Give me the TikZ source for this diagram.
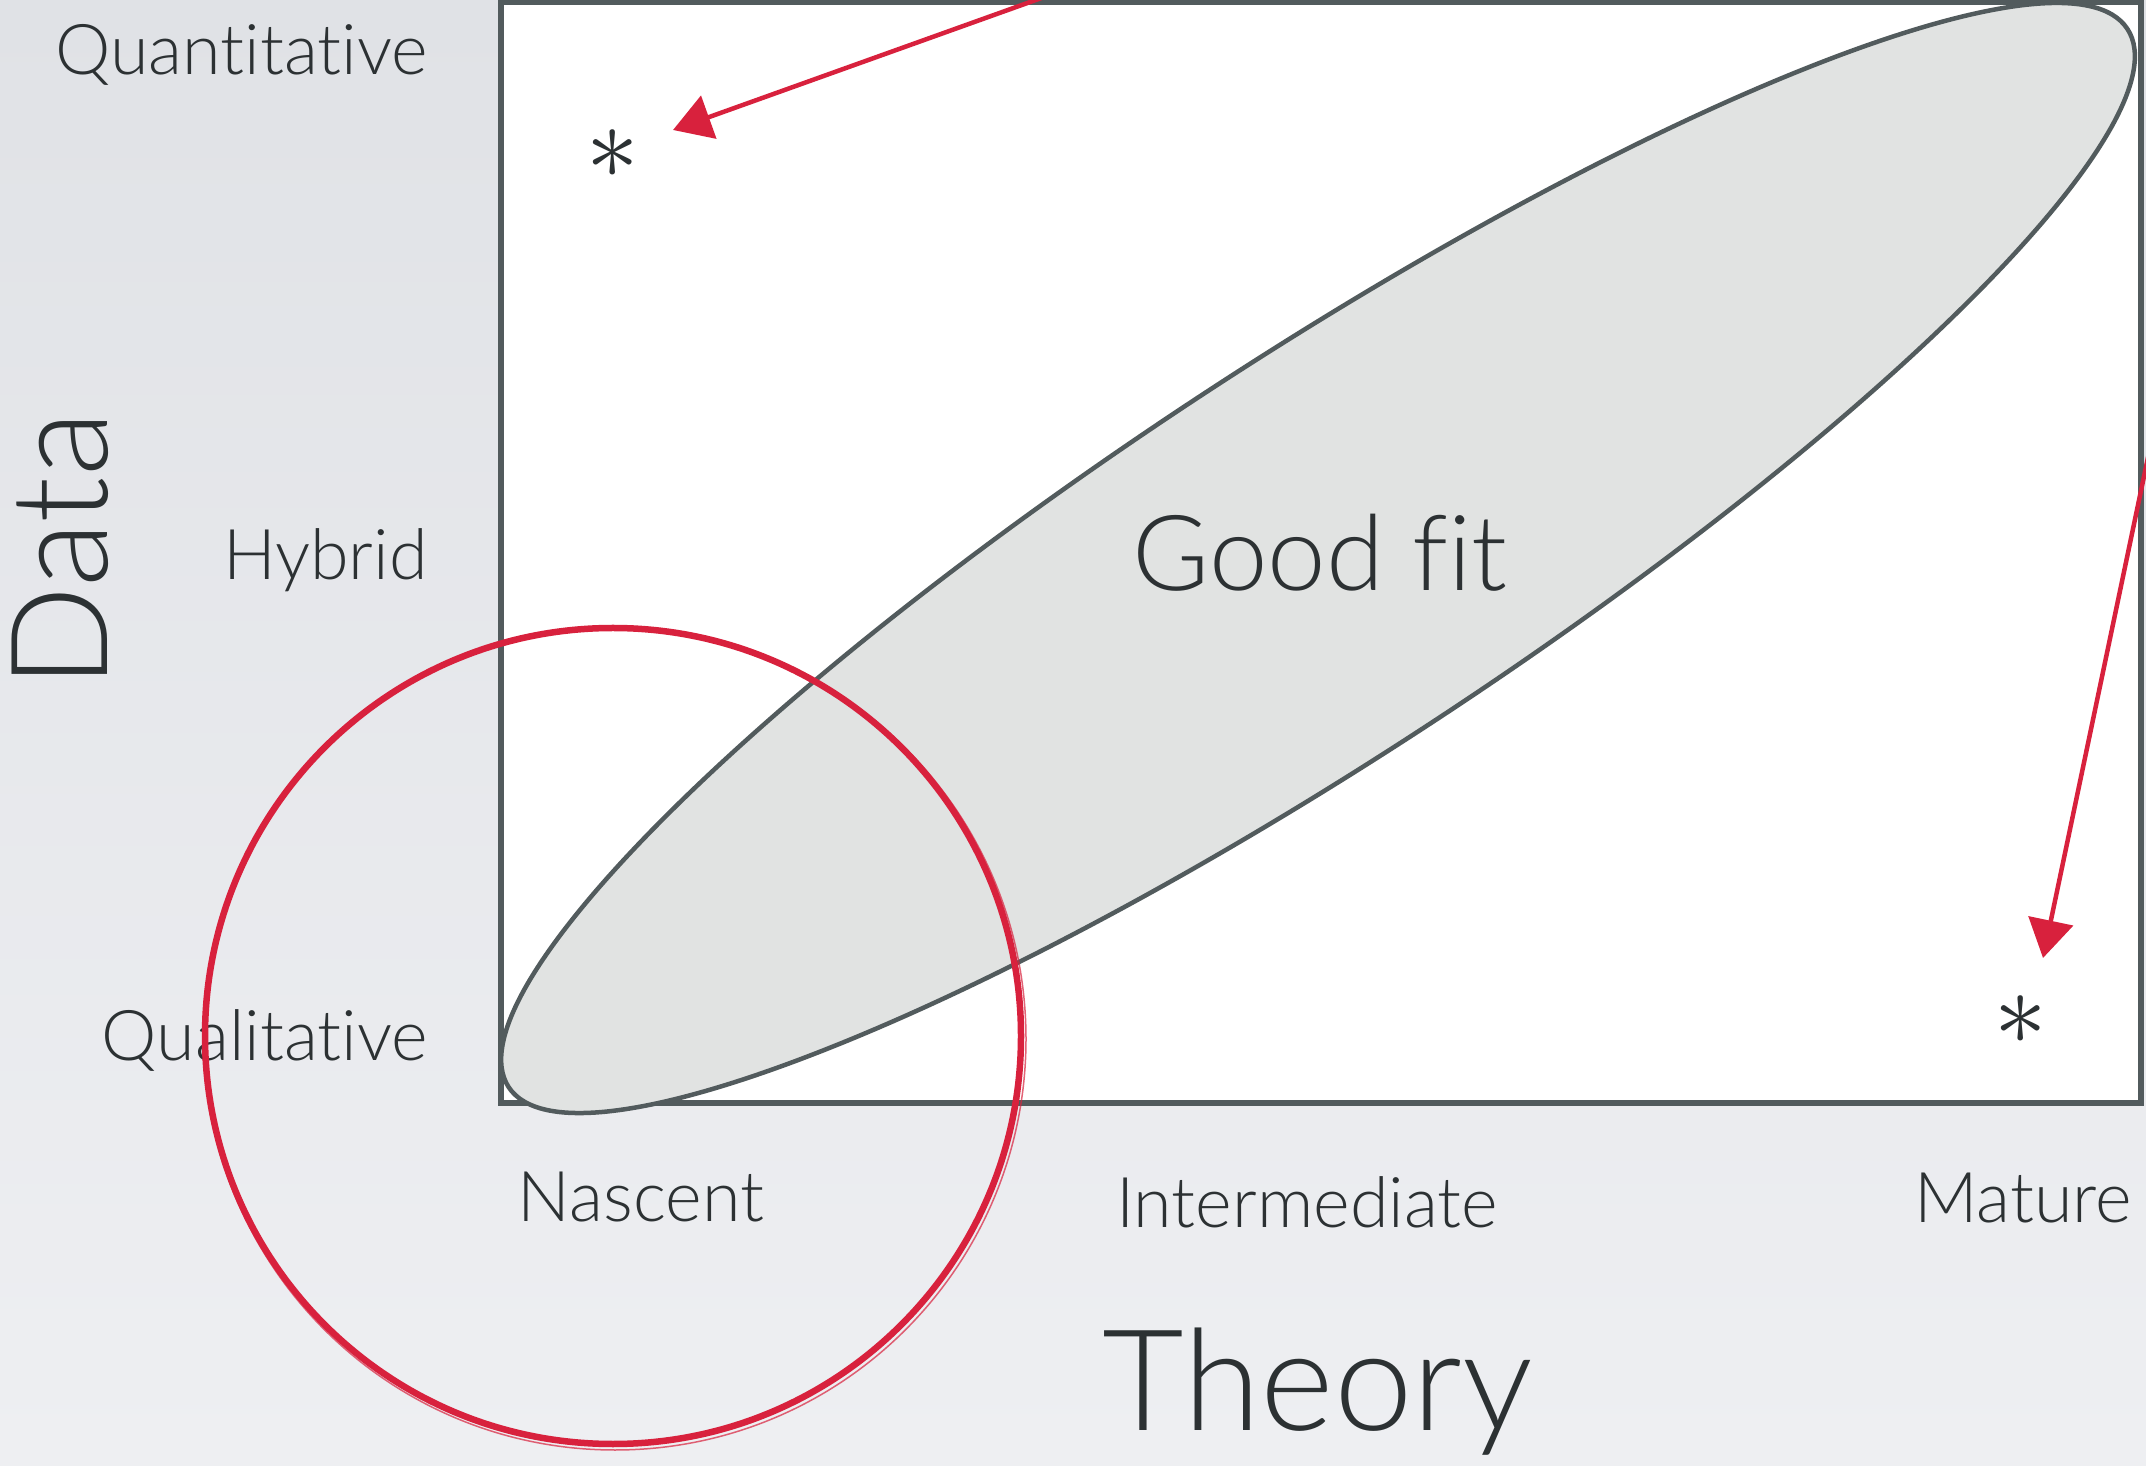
\documentclass[tikz,border=0pt]{standalone}
\usepackage{fontspec}
\setmainfont{Lato Light}[Ligatures=NoCommon]
\usetikzlibrary{arrows.meta,shapes.geometric,calc}
\definecolor{bgtop}{HTML}{E0E2E6}
\definecolor{bgbot}{HTML}{EEEFF2}
\definecolor{framec}{HTML}{525B5D}
\definecolor{fitfill}{HTML}{E1E3E2}
\definecolor{ink}{HTML}{2C3133}
\definecolor{redmk}{HTML}{D8213D}
\begin{document}
\begin{tikzpicture}[x=1pt,y=1pt,
  lbl/.style={text=ink, inner sep=0pt},
  small/.style={lbl, font=\fontsize{70}{84}\selectfont},
  astk/.style={lbl},
  redline/.style={draw=redmk, line width=4.5pt},
  redtip/.style={-{Triangle[length=38pt,width=45pt]}}]
\useasboundingbox (0,0) rectangle (2146,1465);
\clip (0,0) rectangle (2146,1465);
\shade[top color=bgtop,bottom color=bgbot] (0,0) rectangle (2146,1465);
% plot frame
\node[draw=framec, fill=white, line width=5.5pt, minimum width=1640pt, minimum height=1101pt,
      anchor=south west, inner sep=0pt] (plot) at (498,359) {};
% good fit ellipse
\node[ellipse, draw=framec, fill=fitfill, line width=4.5pt, inner sep=0pt,
      minimum width=1934pt, minimum height=400pt, rotate=33.17] (fit) at (1318,907) {};
\node[lbl, font=\fontsize{105}{120}\selectfont, anchor=base] (goodfit) at (1320,874) {Good fit};
% asterisks
\node[astk] (ast1) at (613,1311) {\scalebox{10.5}{$\ast$}};
\node[astk] (ast2) at (2021,445) {\scalebox{10.5}{$\ast$}};
% axis labels
\node[small, anchor=base east] (quant) at (428,1390) {Quantitative};
\node[small, anchor=base east] (hyb) at (428,885) {Hybrid};
\node[small, anchor=base east] (qual) at (428,404) {Qualitative};
\node[lbl, font=\fontsize{135}{150}\selectfont, rotate=90, anchor=base] (data) at (107,915) {Data};
\node[small, anchor=base] (nasc) at (641,244) {Nascent};
\node[small, anchor=base] (inter) at (1307,238) {Intermediate};
\node[small, anchor=base] (mat) at (2023,243) {Mature};
\node[lbl, font=\fontsize{141}{160}\selectfont, anchor=base] (theory) at (1318,35) {Theory};
% red hand-drawn circle
\node[circle, draw=redmk, line width=6.5pt, minimum size=816pt, inner sep=0pt] (focus) at (613,429) {};
\draw[draw=redmk, line width=1.5pt, opacity=0.7] ($(focus.center)+(2,-3)$) circle[radius=411pt];
% red arrows
\coordinate (a1start) at (1100,1488);
\coordinate (a1tip) at (673,1335);
\draw[redline, redtip] (a1start) -- (a1tip);
\coordinate (a2start) at (2160,1065);
\coordinate (a2tip) at (2043,507);
\draw[redline, redtip] (a2start) -- (a2tip);
\end{tikzpicture}
\end{document}
